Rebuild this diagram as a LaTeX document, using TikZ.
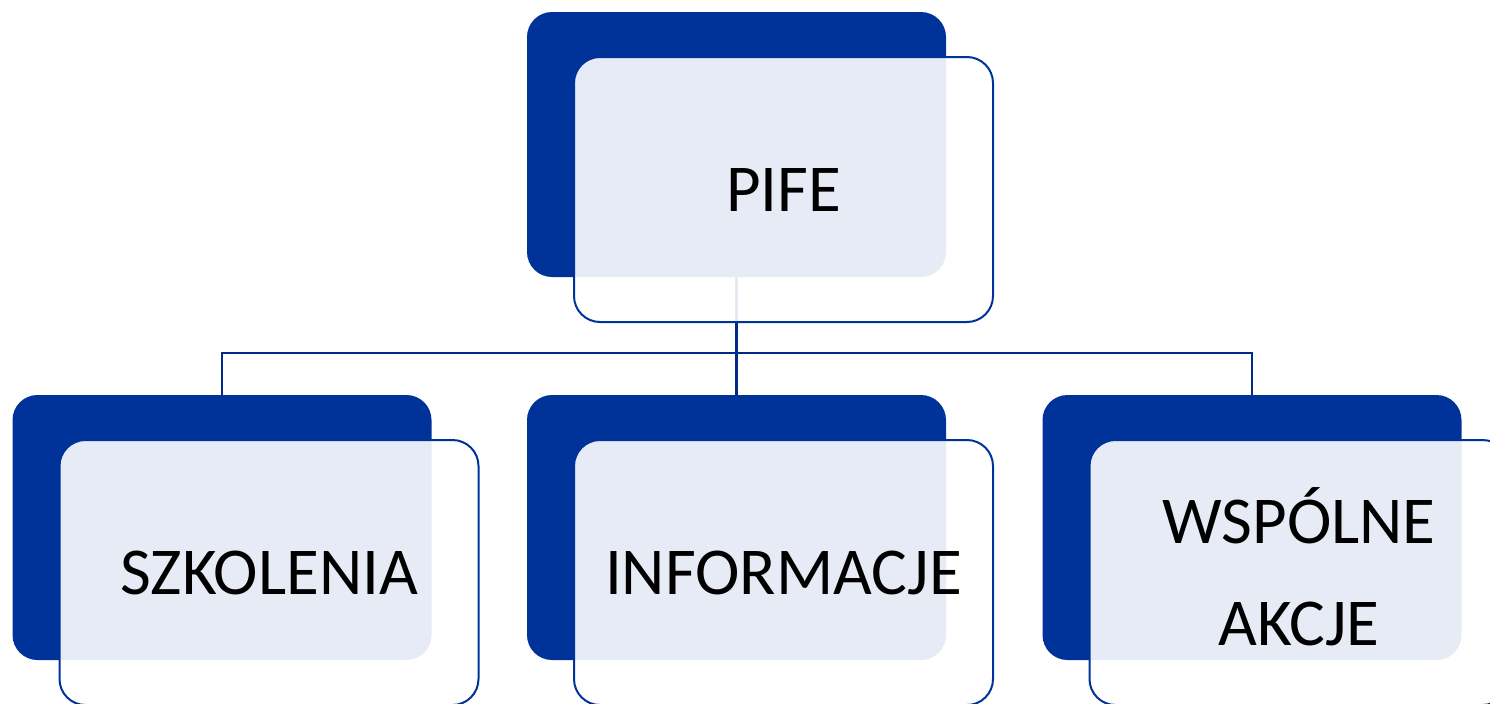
\documentclass[tikz,border=0pt]{standalone}
\usepackage{fontspec}
\setmainfont{Carlito}
\usepackage{tikz}
\usetikzlibrary{positioning}

\definecolor{darkblue}{HTML}{003399}
\definecolor{linkblue}{HTML}{002C88}

\tikzset{
    backbox/.style={fill=darkblue, rounded corners=12.5pt, minimum width=209.5pt, minimum height=132.5pt, inner sep=0pt},
    frontbox/.style={draw=darkblue, line width=1pt, fill=white, fill opacity=0.9, text opacity=1, rounded corners=13pt,
        minimum width=209.5pt, minimum height=132.5pt, inner sep=0pt, align=center,
        font=\fontsize{33.5}{51}\selectfont, xshift=23.5pt, yshift=-22.5pt},
    link/.style={draw=linkblue, line width=1.3pt}
}

\begin{document}
\begin{tikzpicture}[x=0.5pt, y=-0.5pt]
    \useasboundingbox (0,0) rectangle (1490,703);
    \clip (0,0) rectangle (1490,703);

    % Back boxes
    \node[backbox] (pifeback) at (736.5,144.5) {};
    \node[backbox] (szkback) at (222,527.5) {};
    \node[backbox] (infback) at (736.5,527.5) {};
    \node[backbox] (wspback) at (1252,527.5) {};

    % Connectors
    \coordinate (bus) at (pifeback.south |- 0,353);
    \draw[link] (pifeback.south) -- (bus);
    \draw[link] (szkback.north) |- (bus) -| (wspback.north);
    \draw[link] (infback.north) -- (bus);

    % Front boxes
    \node[frontbox] (pife) at (pifeback) {PIFE};
    \node[frontbox] (szk) at (szkback) {SZKOLENIA};
    \node[frontbox] (inf) at (infback) {INFORMACJE};
    \node[frontbox] (wsp) at (wspback) {WSP\smash{Ó}LNE\\AKCJE};

\end{tikzpicture}
\end{document}
